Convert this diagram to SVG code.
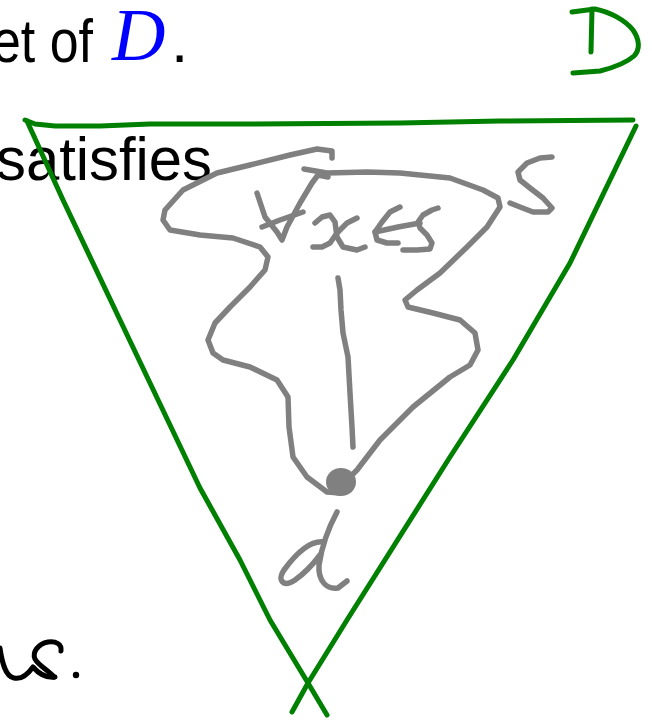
<svg xmlns="http://www.w3.org/2000/svg" width="652" height="721" viewBox="0 0 652 721">
<style>
.txt{font-family:"Liberation Sans",Arial,sans-serif;font-size:62px;fill:#000}
.math{font-family:"Liberation Serif","Times New Roman",serif;font-style:italic;font-size:74px;fill:#0000ff}
.g{fill:none;stroke:#008000;stroke-width:5;stroke-linecap:round;stroke-linejoin:round}
.k{fill:none;stroke:#808080;stroke-width:5.5;stroke-linecap:round;stroke-linejoin:round}
.b{fill:none;stroke:#000;stroke-width:5;stroke-linecap:round;stroke-linejoin:round}
</style>
<rect width="652" height="721" fill="#fff"/>
<g id="slide-text">
<text class="txt" x="-8" y="62" textLength="101" lengthAdjust="spacingAndGlyphs">et of</text>
<text class="math" x="112" y="60">D</text>
<text class="txt" x="171" y="62">.</text>
<text class="txt" x="-4" y="180" textLength="216" lengthAdjust="spacingAndGlyphs">satisfies</text>
<g id="handwritten-us">
<path class="b" d="M0,648 C2,662 5,676 14,678 C22,680 28,674 33,667 C39,674 47,678 55,677"/>
<path class="b" d="M61,651 C62,644 56,641 48,642 C38,644 32,652 35,659 C39,666 48,670 54,677"/>
<circle cx="76" cy="675" r="3.2" fill="#000"/>
</g>
</g>
<g id="set-D">
<polyline class="g" points="25,120 35,124 55,126 100,126 150,124 250,124 400,123 500,121 633,120"/>
<polyline class="g" points="27,121 63,200 120,320 200,488 240,560 270,620 308,683 327,715"/>
<polyline class="g" points="636,126 570,263 513,360 450,457 347,620 308,683 292,712"/>
<g id="label-D">
<path class="g" d="M592,9 L591,52"/>
<path class="g" d="M572,12 L595,9 C610,12 625,20 633,30 C640,40 640,50 634,56 C625,64 612,68 600,71 L573,73"/>
</g>
</g>
<g id="set-S">
<polyline class="k" points="332,158 332,151 317,149 290,155 250,165 217,173 183,190 165,210 163,220 170,230 200,235 233,238 260,247 268,257 265,270 250,287 230,307 215,323 208,340 213,353 223,360 250,367 277,380 288,397 289,427 293,457 307,477 327,492 340,493"/>
<polyline class="k" points="304,169 327,173 367,172 400,173 450,178 483,190 498,198 500,207 487,227 467,247 440,273 417,290 405,300 408,307 433,313 460,320 475,333 478,350 470,365 450,377 413,407 380,440 357,470 345,482"/>
<g id="label-S">
<polyline class="k" points="552,157 540,158 527,163 518,172 520,180 530,188 543,198 552,208 548,212 533,212 520,207 510,203"/>
</g>
<g id="forall-x-in-S">
<polyline class="k" points="257,193 265,217 277,232 282,240 287,227 300,203 312,183 318,175 328,177"/>
<polyline class="k" points="262,227 280,220 303,212"/>
<polyline class="k" points="315,223 322,217 330,215 335,222 337,237 343,247 357,250 365,247"/>
<polyline class="k" points="357,218 347,223 337,233 330,243 322,247 313,247"/>
<polyline class="k" points="400,207 390,212 382,222 375,232 377,240 387,243 398,243"/>
<polyline class="k" points="375,232 398,227 420,223"/>
<polyline class="k" points="438,208 432,210 423,215 418,222 420,228 427,235 432,243 430,249 417,250 403,250"/>
</g>
<polyline class="k" points="338,278 340,290 341,310 343,333 348,357 350,393 352,427 353,447"/>
<g id="point-d">
<ellipse cx="341" cy="482" rx="15" ry="14" fill="#808080"/>
<path class="k" d="M337,512 C330,525 322,545 319,565 C318,580 326,590 338,588 L347,581"/>
<path class="k" d="M324,542 C310,540 295,555 284,570 C277,580 283,588 295,580 C305,573 314,563 320,555"/>
</g>
</g>
</svg>
